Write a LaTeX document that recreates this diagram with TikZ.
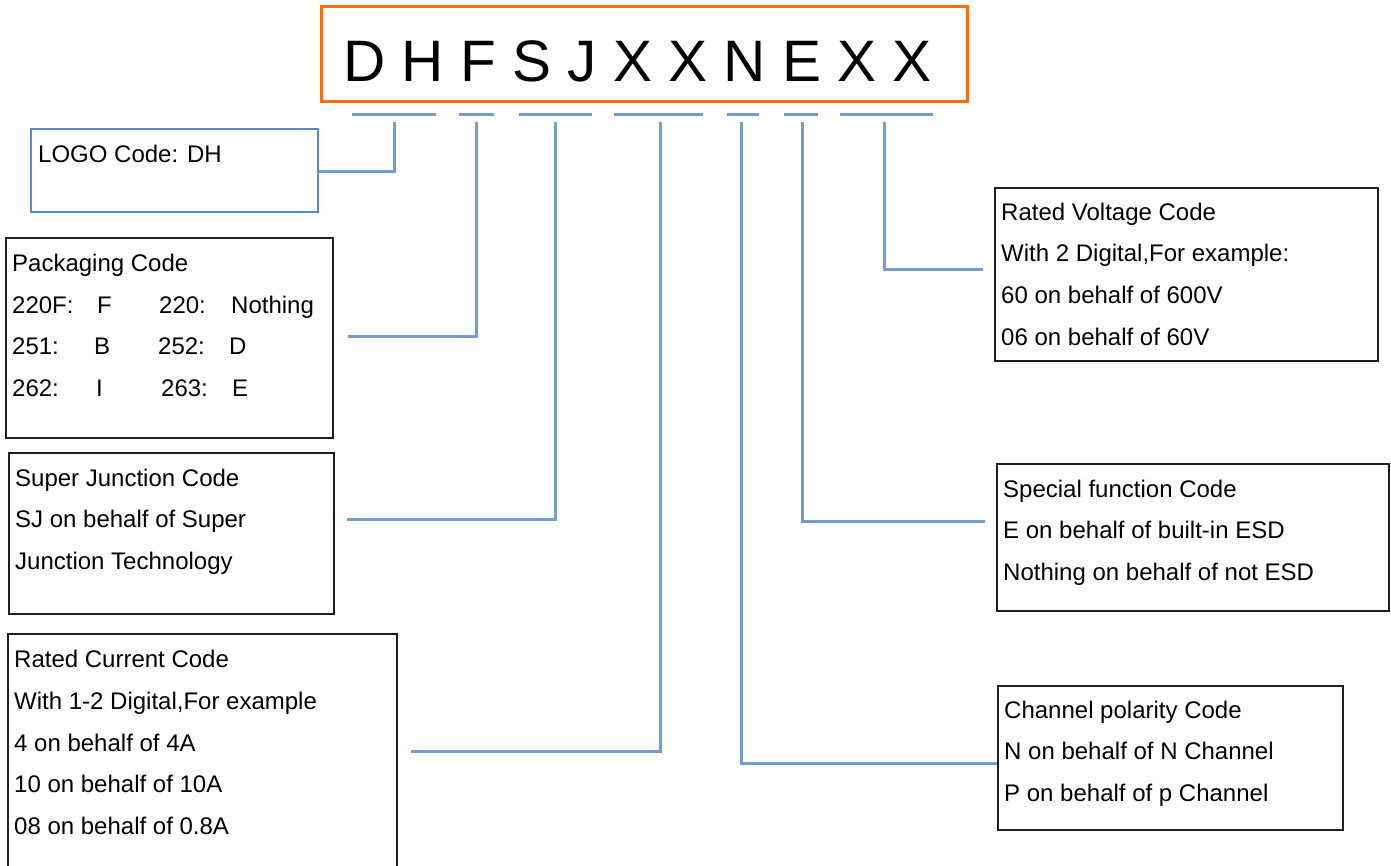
\documentclass[tikz,border=0pt]{standalone}
\usepackage{fontspec}
\setmainfont{Liberation Sans}
\definecolor{lnblue}{RGB}{114,157,204}
\definecolor{logoblue}{RGB}{88,137,209}
\definecolor{codeorange}{RGB}{250,108,18}
\begin{document}
\begin{tikzpicture}[x=1pt,y=-1pt,
  conn/.style={draw=lnblue, line width=3pt},
  bar/.style={fill=lnblue, inner sep=0pt, minimum height=3pt},
  codebox/.style={draw=black!88, line width=1.6pt, inner sep=0pt, anchor=north west},
  txt/.style={anchor=base west, inner sep=0pt, font=\fontsize{24}{28}\selectfont},
]
\useasboundingbox (0,0) rectangle (1391,866);

% title
\node[draw=codeorange, line width=3pt, minimum width=646pt, minimum height=95pt, inner sep=0pt] (title) at (644.5,54.5) {};
\node[anchor=base, inner sep=0pt, font=\fontsize{58.5}{68}\selectfont] (code) at (637.5,82) {D H F S J X X N E X X};

% underline bars
\node[bar, minimum width=84pt] (u1) at (394,115) {};
\node[bar, minimum width=35pt] (u2) at (476.5,115) {};
\node[bar, minimum width=73pt] (u3) at (555.5,115) {};
\node[bar, minimum width=89pt] (u4) at (658.5,115) {};
\node[bar, minimum width=32pt] (u5) at (743,115) {};
\node[bar, minimum width=34pt] (u6) at (801,115) {};
\node[bar, minimum width=93pt] (u7) at (886.5,115) {};

% boxes
\node[codebox, draw=logoblue, line width=2.4pt, minimum width=287pt, minimum height=83pt] (logo) at (30,128) {};
\node[codebox, minimum width=327pt, minimum height=200pt] (pk) at (5,237) {};
\node[codebox, minimum width=325pt, minimum height=161pt] (sj) at (8,452) {};
\node[codebox, minimum width=389pt, minimum height=260pt] (rc) at (7,633) {};
\node[codebox, minimum width=383pt, minimum height=173pt] (rv) at (994,187) {};
\node[codebox, minimum width=392pt, minimum height=147pt] (sf) at (996,463) {};
\node[codebox, minimum width=345pt, minimum height=144pt] (cp) at (997,685) {};

% texts
\node[txt] (t-logo) at (38,163) {LOGO Code: DH};

\node[txt] (pk0) at (12,272) {Packaging Code};
\node[txt] (pk1a) at (12,313) {220F:};
\node[txt] (pk1b) at (97,313) {F};
\node[txt] (pk1c) at (159,313) {220:};
\node[txt] (pk1d) at (231,313) {Nothing};
\node[txt] (pk2a) at (12,354) {251:};
\node[txt] (pk2b) at (94,354) {B};
\node[txt] (pk2c) at (158,354) {252:};
\node[txt] (pk2d) at (229,354) {D};
\node[txt] (pk3a) at (12,396) {262:};
\node[txt] (pk3b) at (96,396) {I};
\node[txt] (pk3c) at (161,396) {263:};
\node[txt] (pk3d) at (232,396) {E};

\node[txt] (sj1) at (15,486) {Super Junction Code};
\node[txt] (sj2) at (15,527) {SJ on behalf of Super};
\node[txt] (sj3) at (15,569) {Junction Technology};

\node[txt] (rc1) at (14,667) {Rated Current Code};
\node[txt] (rc2) at (14,709) {With 1-2 Digital,For example};
\node[txt] (rc3) at (14,751) {4 on behalf of 4A};
\node[txt] (rc4) at (14,792) {10 on behalf of 10A};
\node[txt] (rc5) at (14,834) {08 on behalf of 0.8A};

\node[txt] (rv1) at (1001,221) {Rated Voltage Code};
\node[txt] (rv2) at (1001,262) {With 2 Digital,For example:};
\node[txt] (rv3) at (1001,304) {60 on behalf of 600V};
\node[txt] (rv4) at (1001,345) {06 on behalf of 60V};

\node[txt] (sf1) at (1003,497) {Special function Code};
\node[txt] (sf2) at (1003,538) {E on behalf of built-in ESD};
\node[txt] (sf3) at (1003,580) {Nothing on behalf of not ESD};

\node[txt] (cp1) at (1004,718) {Channel polarity Code};
\node[txt] (cp2) at (1004,759) {N on behalf of N Channel};
\node[txt] (cp3) at (1004,801) {P on behalf of p Channel};

% connector ends
\coordinate (e1) at (319,172);
\coordinate (e2) at (348,336);
\coordinate (e3) at (347,519);
\coordinate (e4) at (411,751);
\coordinate (e5) at (997,763);
\coordinate (e6) at (985,521);
\coordinate (e7) at (983,270);

% connectors
\draw[conn] ([yshift=-5pt]u1.south) |- (e1);
\draw[conn] ([yshift=-5pt]u2.south) |- (e2);
\draw[conn] ([yshift=-5pt]u3.south) |- (e3);
\draw[conn] ([yshift=-5pt,xshift=1.5pt]u4.south) |- (e4);
\draw[conn] ([yshift=-5pt,xshift=-2pt]u5.south) |- (e5);
\draw[conn] ([yshift=-5pt,xshift=1pt]u6.south) |- (e6);
\draw[conn] ([yshift=-5pt,xshift=-2.5pt]u7.south) |- (e7);
\end{tikzpicture}
\end{document}
